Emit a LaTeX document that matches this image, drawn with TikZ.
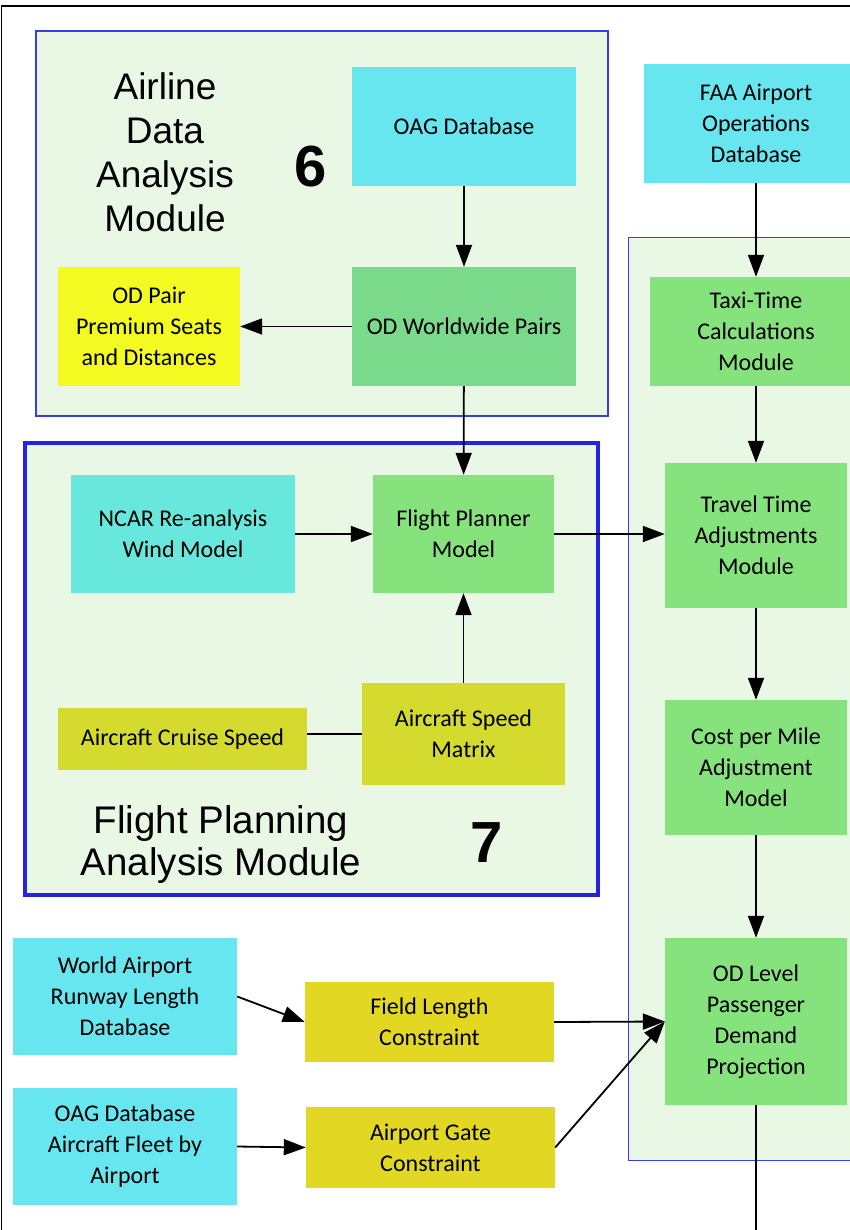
\documentclass[tikz,border=0pt]{standalone}
\usepackage{fontspec}
\setmainfont{Carlito}
\newfontfamily\titlefont{Liberation Sans}
\usetikzlibrary{arrows.meta}

\definecolor{dbcyan}{HTML}{68E6F0}
\definecolor{windteal}{HTML}{68E8DC}
\definecolor{pairgreen}{HTML}{7BD98B}
\definecolor{modgreen}{HTML}{86E27C}
\definecolor{seatyellow}{HTML}{F2FA22}
\definecolor{speedolive}{HTML}{D4DA2E}
\definecolor{constyellow}{HTML}{E2D824}
\definecolor{modfill}{HTML}{E9F7E5}
\definecolor{modblue}{HTML}{3A3AF0}
\definecolor{modblue7}{HTML}{2424E0}

\tikzset{
  box/.style={draw=none, align=center, inner sep=0pt,
    font=\fontsize{24}{31}\selectfont},
  arr/.style={line width=1.8pt, -{Triangle[length=22pt,width=16pt]}},
  plain/.style={line width=1.8pt},
  title/.style={align=center, inner sep=0pt,
    font=\titlefont\fontsize{37}{44}\selectfont},
  title7/.style={align=center, inner sep=0pt,
    font=\titlefont\fontsize{38.5}{42}\selectfont},
  bignum/.style={inner sep=0pt, font=\titlefont\bfseries\fontsize{58}{60}\selectfont}
}

\begin{document}
\begin{tikzpicture}[x=1pt,y=-1pt]
\useasboundingbox (0,0) rectangle (849,1230);

% outer frame
\draw[line width=1.5pt] (1.5,1240) -- (1.5,6) -- (860,6);

% module frames
\draw[draw=modblue, line width=1pt, fill=modfill] (628,238) rectangle (870,1160);
\draw[draw=modblue, line width=2pt, fill=modfill] (36,31) rectangle (608,416);
\draw[draw=modblue7, line width=3.5pt, fill=modfill] (25,443) rectangle (598,895);

% module titles
\node[title] (t6) at (165,152) {Airline\\Data\\Analysis\\Module};
\node[bignum] (n6) at (311,167) {6};
\node[title7] (t7) at (221,845) {Flight Planning\\Analysis Module};
\node[bignum] (n7) at (487,843) {7};

% airline data analysis
\node[box, fill=dbcyan, minimum width=224, minimum height=119] (oag) at (464,126.5) {OAG Database};
\node[box, fill=pairgreen, minimum width=224, minimum height=119] (odww) at (464,326.5) {OD Worldwide Pairs};
\node[box, fill=seatyellow, minimum width=182, minimum height=119] (odpair) at (149,326.5) {OD Pair\\Premium Seats\\and Distances};

% right column
\node[box, fill=dbcyan, minimum width=224, minimum height=119] (faa) at (756,123.5) {FAA Airport\\Operations\\Database};
\node[box, fill=modgreen, minimum width=212, minimum height=109] (taxi) at (756,331.5) {Taxi-Time\\Calculations\\Module};
\node[box, fill=modgreen, minimum width=182, minimum height=145] (travel) at (756,535.5) {Travel Time\\Adjustments\\Module};
\node[box, fill=modgreen, minimum width=182, minimum height=135] (cost) at (756,767.5) {Cost per Mile\\Adjustment\\Model};
\node[box, fill=modgreen, minimum width=182, minimum height=167] (odlevel) at (756,1021.5) {OD Level\\Passenger\\Demand\\Projection};
\coordinate (odout) at (756,1240);

% flight planning
\node[box, fill=windteal, minimum width=224, minimum height=118] (ncar) at (183,534) {NCAR Re-analysis\\Wind Model};
\node[box, fill=modgreen, minimum width=181, minimum height=118] (fp) at (463.5,534) {Flight Planner\\Model};
\node[box, fill=speedolive, minimum width=249, minimum height=62] (cruise) at (182.5,739) {Aircraft Cruise Speed};
\node[box, fill=speedolive, minimum width=203, minimum height=102] (matrix) at (463.5,734) {Aircraft Speed\\Matrix};

% constraints
\node[box, fill=dbcyan, minimum width=224, minimum height=117] (world) at (125,996.5) {World Airport\\Runway Length\\Database};
\node[box, fill=constyellow, minimum width=249, minimum height=80] (field) at (429.5,1022) {Field Length\\Constraint};
\node[box, fill=dbcyan, minimum width=224, minimum height=117] (fleet) at (125,1146.5) {OAG Database\\Aircraft Fleet by\\Airport};
\node[box, fill=constyellow, minimum width=249, minimum height=81] (gate) at (430.5,1147.5) {Airport Gate\\Constraint};

% connectors
\draw[arr] (oag) -- (odww);
\draw[arr] (odww) -- (odpair);
\draw[arr] (odww) -- (fp);
\draw[arr] (ncar) -- (fp);
\draw[arr] (matrix) -- (fp);
\draw[plain] (matrix.west -| cruise.east) -- (matrix.west);
\draw[arr] (fp.east) -- (fp.east -| travel.west);
\draw[arr] (faa) -- (taxi);
\draw[arr] (taxi) -- (travel);
\draw[arr] (travel) -- (cost);
\draw[arr] (cost) -- (odlevel);
\draw[plain] (odlevel) -- (odout);
\draw[arr] (world.east) -- (field.west);
\draw[arr] (fleet.east) -- (gate.west);
\draw[arr] (field.east) -- (odlevel.west);
\draw[arr] (gate.east) -- (odlevel.west);
\end{tikzpicture}
\end{document}
